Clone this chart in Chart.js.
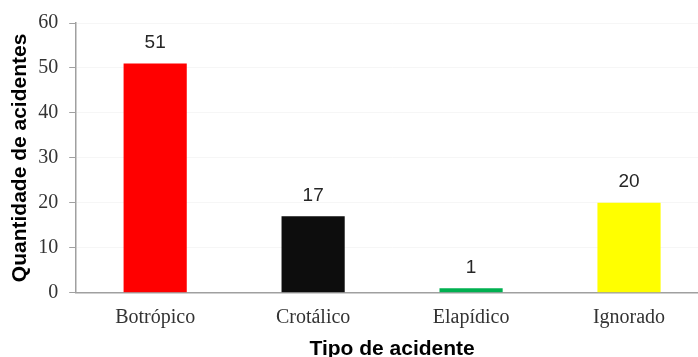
<!DOCTYPE html>
<html>
<head>
<meta charset="utf-8">
<script src="https://cdn.jsdelivr.net/npm/chart.js@4/dist/chart.umd.min.js"></script>
<style>
  html, body { margin: 0; padding: 0; background: #fff; overflow: hidden; }
  #wrap { width: 710px; height: 364px; }
</style>
</head>
<body>
<div id="wrap"><canvas id="grafico"></canvas></div>
<script>
const tipos = ['Botrópico', 'Crotálico', 'Elapídico', 'Ignorado'];
const quantidades = [51, 17, 1, 20];
const cores = ['#ff0000', '#0d0d0d', '#00b050', '#ffff00'];
const ticksY = [0, 10, 20, 30, 40, 50, 60];

// escreve o valor em cima de cada barra
const rotulos = {
    id: 'rotulos',
    afterDatasetsDraw(chart) {
        const ctx = chart.ctx;
        const meta = chart.getDatasetMeta(0);
        ctx.save();
        ctx.font = '19px "Liberation Sans", Arial, sans-serif';
        ctx.fillStyle = '#262626';
        ctx.textAlign = 'center';
        ctx.textBaseline = 'middle';
        meta.data.forEach((bar, i) => {
            ctx.fillText(quantidades[i], bar.x, bar.y - 21);
        });
        ctx.restore();
    }
};

new Chart(document.getElementById('grafico'), {
    type: 'bar',
    data: {
        labels: tipos,
        datasets: [{
            data: quantidades,
            backgroundColor: cores,
            barPercentage: 0.4,
            categoryPercentage: 1
        }]
    },
    options: {
        responsive: true,
        maintainAspectRatio: false,
        animation: false,
        layout: { padding: { top: 5, left: 8, right: 2, bottom: 2 } },
        plugins: { legend: { display: false }, tooltip: { enabled: false } },
        scales: {
            x: {
                grid: { display: false, drawTicks: false },
                border: { color: '#a0a0a0', width: 1.5 },
                ticks: {
                    padding: 13,
                    color: '#333',
                    font: { family: '"Liberation Serif", "Times New Roman", serif', size: 20 }
                },
                title: {
                    display: true,
                    text: 'Tipo de acidente',
                    color: '#000',
                    padding: { top: -6, bottom: 0 },
                    font: { family: '"Liberation Sans", Arial, sans-serif', size: 21, weight: 'bold' }
                }
            },
            y: {
                min: 0,
                max: 60,
                afterBuildTicks(axis) {
                    axis.ticks = ticksY.map(v => ({ value: v }));
                },
                grid: { color: '#f6f6f6', tickColor: '#a0a0a0', tickLength: 7 },
                border: { color: '#a0a0a0', width: 1.5 },
                ticks: {
                    padding: 11,
                    color: '#333',
                    font: { family: '"Liberation Serif", "Times New Roman", serif', size: 20 }
                },
                title: {
                    display: true,
                    text: 'Quantidade de acidentes',
                    color: '#000',
                    padding: { top: 0, bottom: -6 },
                    font: { family: '"Liberation Sans", Arial, sans-serif', size: 21, weight: 'bold' }
                }
            }
        }
    },
    plugins: [rotulos]
});
</script>
</body>
</html>
